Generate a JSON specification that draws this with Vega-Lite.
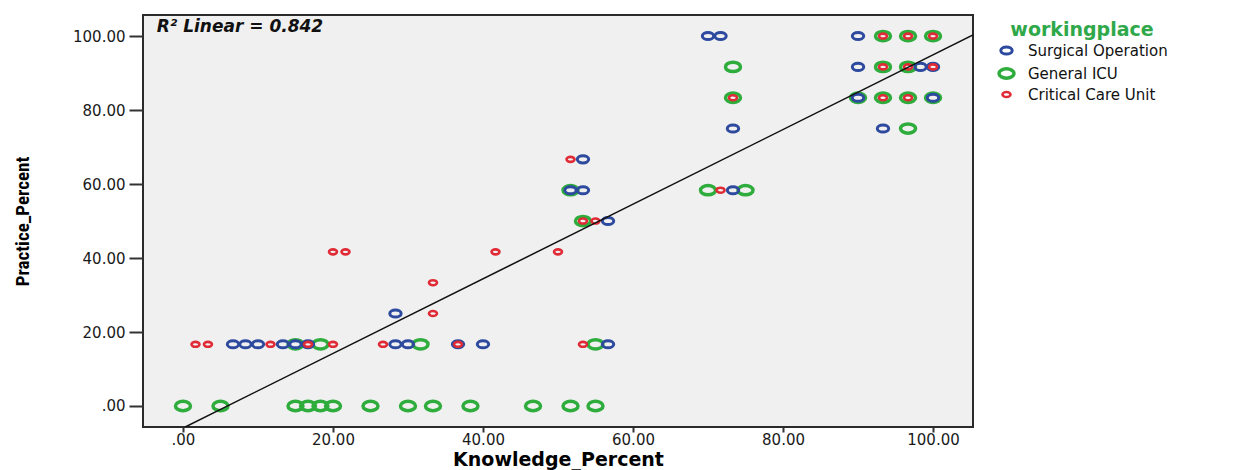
{
  "$schema": "https://vega.github.io/schema/vega-lite/v6.json",
  "width": 830,
  "height": 412,
  "autosize": {"type": "none"},
  "padding": {"left": 143, "top": 15, "right": 281, "bottom": 43},
  "background": "white",
  "config": {
    "view": {"fill": "#f0f0f0", "stroke": "#2b2b2b", "strokeWidth": 2},
    "axis": {"grid": false, "domain": false, "tickColor": "#333333", "tickWidth": 2, "labelFont": "DejaVu Sans", "labelColor": "#1a1a1a", "titleColor": "#000000"},
    "legend": {"symbolType": "M-1,0A1,0.62,0,1,1,1,0A1,0.62,0,1,1,-1,0Z"}
  },
  "datasets": {
    "pts": [
      {"k": 93.33, "p": 100, "g": "General ICU"},
      {"k": 96.67, "p": 100, "g": "General ICU"},
      {"k": 100, "p": 100, "g": "General ICU"},
      {"k": 73.33, "p": 91.67, "g": "General ICU"},
      {"k": 93.33, "p": 91.67, "g": "General ICU"},
      {"k": 96.67, "p": 91.67, "g": "General ICU"},
      {"k": 73.33, "p": 83.33, "g": "General ICU"},
      {"k": 90, "p": 83.33, "g": "General ICU"},
      {"k": 93.33, "p": 83.33, "g": "General ICU"},
      {"k": 96.67, "p": 83.33, "g": "General ICU"},
      {"k": 100, "p": 83.33, "g": "General ICU"},
      {"k": 96.67, "p": 75, "g": "General ICU"},
      {"k": 51.67, "p": 58.33, "g": "General ICU"},
      {"k": 70, "p": 58.33, "g": "General ICU"},
      {"k": 75, "p": 58.33, "g": "General ICU"},
      {"k": 53.33, "p": 50, "g": "General ICU"},
      {"k": 15, "p": 16.67, "g": "General ICU"},
      {"k": 18.33, "p": 16.67, "g": "General ICU"},
      {"k": 31.67, "p": 16.67, "g": "General ICU"},
      {"k": 55, "p": 16.67, "g": "General ICU"},
      {"k": 0, "p": 0, "g": "General ICU"},
      {"k": 5, "p": 0, "g": "General ICU"},
      {"k": 15, "p": 0, "g": "General ICU"},
      {"k": 16.67, "p": 0, "g": "General ICU"},
      {"k": 18.33, "p": 0, "g": "General ICU"},
      {"k": 20, "p": 0, "g": "General ICU"},
      {"k": 25, "p": 0, "g": "General ICU"},
      {"k": 30, "p": 0, "g": "General ICU"},
      {"k": 33.33, "p": 0, "g": "General ICU"},
      {"k": 38.33, "p": 0, "g": "General ICU"},
      {"k": 46.67, "p": 0, "g": "General ICU"},
      {"k": 51.67, "p": 0, "g": "General ICU"},
      {"k": 55, "p": 0, "g": "General ICU"},
      {"k": 70, "p": 100, "g": "Surgical Operation"},
      {"k": 71.67, "p": 100, "g": "Surgical Operation"},
      {"k": 90, "p": 100, "g": "Surgical Operation"},
      {"k": 90, "p": 91.67, "g": "Surgical Operation"},
      {"k": 98.33, "p": 91.67, "g": "Surgical Operation"},
      {"k": 100, "p": 91.67, "g": "Surgical Operation"},
      {"k": 90, "p": 83.33, "g": "Surgical Operation"},
      {"k": 100, "p": 83.33, "g": "Surgical Operation"},
      {"k": 73.33, "p": 75, "g": "Surgical Operation"},
      {"k": 93.33, "p": 75, "g": "Surgical Operation"},
      {"k": 53.33, "p": 66.67, "g": "Surgical Operation"},
      {"k": 51.67, "p": 58.33, "g": "Surgical Operation"},
      {"k": 53.33, "p": 58.33, "g": "Surgical Operation"},
      {"k": 73.33, "p": 58.33, "g": "Surgical Operation"},
      {"k": 56.67, "p": 50, "g": "Surgical Operation"},
      {"k": 28.33, "p": 25, "g": "Surgical Operation"},
      {"k": 6.67, "p": 16.67, "g": "Surgical Operation"},
      {"k": 8.33, "p": 16.67, "g": "Surgical Operation"},
      {"k": 10, "p": 16.67, "g": "Surgical Operation"},
      {"k": 13.33, "p": 16.67, "g": "Surgical Operation"},
      {"k": 15, "p": 16.67, "g": "Surgical Operation"},
      {"k": 16.67, "p": 16.67, "g": "Surgical Operation"},
      {"k": 28.33, "p": 16.67, "g": "Surgical Operation"},
      {"k": 30, "p": 16.67, "g": "Surgical Operation"},
      {"k": 36.67, "p": 16.67, "g": "Surgical Operation"},
      {"k": 40, "p": 16.67, "g": "Surgical Operation"},
      {"k": 56.67, "p": 16.67, "g": "Surgical Operation"},
      {"k": 93.33, "p": 100, "g": "Critical Care Unit"},
      {"k": 96.67, "p": 100, "g": "Critical Care Unit"},
      {"k": 100, "p": 100, "g": "Critical Care Unit"},
      {"k": 93.33, "p": 91.67, "g": "Critical Care Unit"},
      {"k": 96.67, "p": 91.67, "g": "Critical Care Unit"},
      {"k": 100, "p": 91.67, "g": "Critical Care Unit"},
      {"k": 73.33, "p": 83.33, "g": "Critical Care Unit"},
      {"k": 93.33, "p": 83.33, "g": "Critical Care Unit"},
      {"k": 96.67, "p": 83.33, "g": "Critical Care Unit"},
      {"k": 51.67, "p": 66.67, "g": "Critical Care Unit"},
      {"k": 71.67, "p": 58.33, "g": "Critical Care Unit"},
      {"k": 53.33, "p": 50, "g": "Critical Care Unit"},
      {"k": 55, "p": 50, "g": "Critical Care Unit"},
      {"k": 20, "p": 41.67, "g": "Critical Care Unit"},
      {"k": 21.67, "p": 41.67, "g": "Critical Care Unit"},
      {"k": 41.67, "p": 41.67, "g": "Critical Care Unit"},
      {"k": 50, "p": 41.67, "g": "Critical Care Unit"},
      {"k": 33.33, "p": 33.33, "g": "Critical Care Unit"},
      {"k": 33.33, "p": 25, "g": "Critical Care Unit"},
      {"k": 1.67, "p": 16.67, "g": "Critical Care Unit"},
      {"k": 3.33, "p": 16.67, "g": "Critical Care Unit"},
      {"k": 11.67, "p": 16.67, "g": "Critical Care Unit"},
      {"k": 16.67, "p": 16.67, "g": "Critical Care Unit"},
      {"k": 20, "p": 16.67, "g": "Critical Care Unit"},
      {"k": 26.67, "p": 16.67, "g": "Critical Care Unit"},
      {"k": 36.67, "p": 16.67, "g": "Critical Care Unit"},
      {"k": 53.33, "p": 16.67, "g": "Critical Care Unit"}
    ],
    "fit": [
      {"k": 0.3, "p": -5.68},
      {"k": 105.33, "p": 100.3}
    ],
    "note": [
      {"k": -3.5, "p": 102.4, "label": "R² Linear = 0.842"}
    ]
  },
  "layer": [
    {
      "data": {"name": "pts"},
      "mark": {"type": "point", "filled": false, "shape": "M-1,0A1,0.62,0,1,1,1,0A1,0.62,0,1,1,-1,0Z", "opacity": 1},
      "encoding": {
        "x": {
          "field": "k", "type": "quantitative",
          "scale": {"domain": [-5.33, 105.33], "nice": false, "zero": false},
          "axis": {
            "title": "Knowledge_Percent",
            "values": [0, 20, 40, 60, 80, 100],
            "labelExpr": "datum.value == 0 ? '.00' : format(datum.value, '.2f')",
            "tickSize": 5, "labelPadding": 0, "labelFontSize": 15,
            "titleFont": "DejaVu Sans", "titleFontWeight": "bold", "titleFontSize": 19, "titlePadding": 3
          }
        },
        "y": {
          "field": "p", "type": "quantitative",
          "scale": {"domain": [-5.68, 105.7], "nice": false, "zero": false},
          "axis": {
            "title": "Practice_Percent",
            "values": [0, 20, 40, 60, 80, 100],
            "labelExpr": "datum.value == 0 ? '.00' : format(datum.value, '.2f')",
            "tickSize": 14, "labelPadding": 4, "labelFontSize": 15,
            "titleFont": "Liberation Sans Narrow, Roboto Condensed, Liberation Sans", "titleFontWeight": "bold", "titleFontSize": 19, "titlePadding": 40
          }
        },
        "color": {
          "field": "g", "type": "nominal",
          "scale": {"domain": ["Surgical Operation", "General ICU", "Critical Care Unit"], "range": ["#2d4a9e", "#2eac3c", "#e02a35"]},
          "legend": {
            "title": "workingplace",
            "orient": "none", "legendX": 854, "legendY": 6,
            "padding": 0,
            "titleFont": "DejaVu Sans", "titleFontWeight": "bold", "titleFontSize": 19, "titleColor": "#2fa84a",
            "titleAnchor": "middle", "titlePadding": 3,
            "labelFont": "DejaVu Sans", "labelFontSize": 15, "labelColor": "#111111", "labelOffset": 12,
            "rowPadding": 0, "labelLimit": 300
          }
        },
        "size": {
          "field": "g", "type": "nominal",
          "scale": {"type": "ordinal", "domain": ["Surgical Operation", "General ICU", "Critical Care Unit"], "range": [130, 225, 64]}
        },
        "strokeWidth": {
          "field": "g", "type": "nominal",
          "scale": {"type": "ordinal", "domain": ["Surgical Operation", "General ICU", "Critical Care Unit"], "range": [3, 3.5, 2.6]},
          "legend": null
        }
      }
    },
    {
      "data": {"name": "fit"},
      "mark": {"type": "line", "color": "#111111", "strokeWidth": 1.5, "clip": true},
      "encoding": {
        "x": {"field": "k", "type": "quantitative"},
        "y": {"field": "p", "type": "quantitative"}
      }
    },
    {
      "data": {"name": "note"},
      "mark": {"type": "text", "align": "left", "baseline": "middle", "font": "DejaVu Sans", "fontWeight": "bold", "fontStyle": "italic", "fontSize": 17, "color": "#111111"},
      "encoding": {
        "x": {"field": "k", "type": "quantitative"},
        "y": {"field": "p", "type": "quantitative"},
        "text": {"field": "label"}
      }
    }
  ]
}
